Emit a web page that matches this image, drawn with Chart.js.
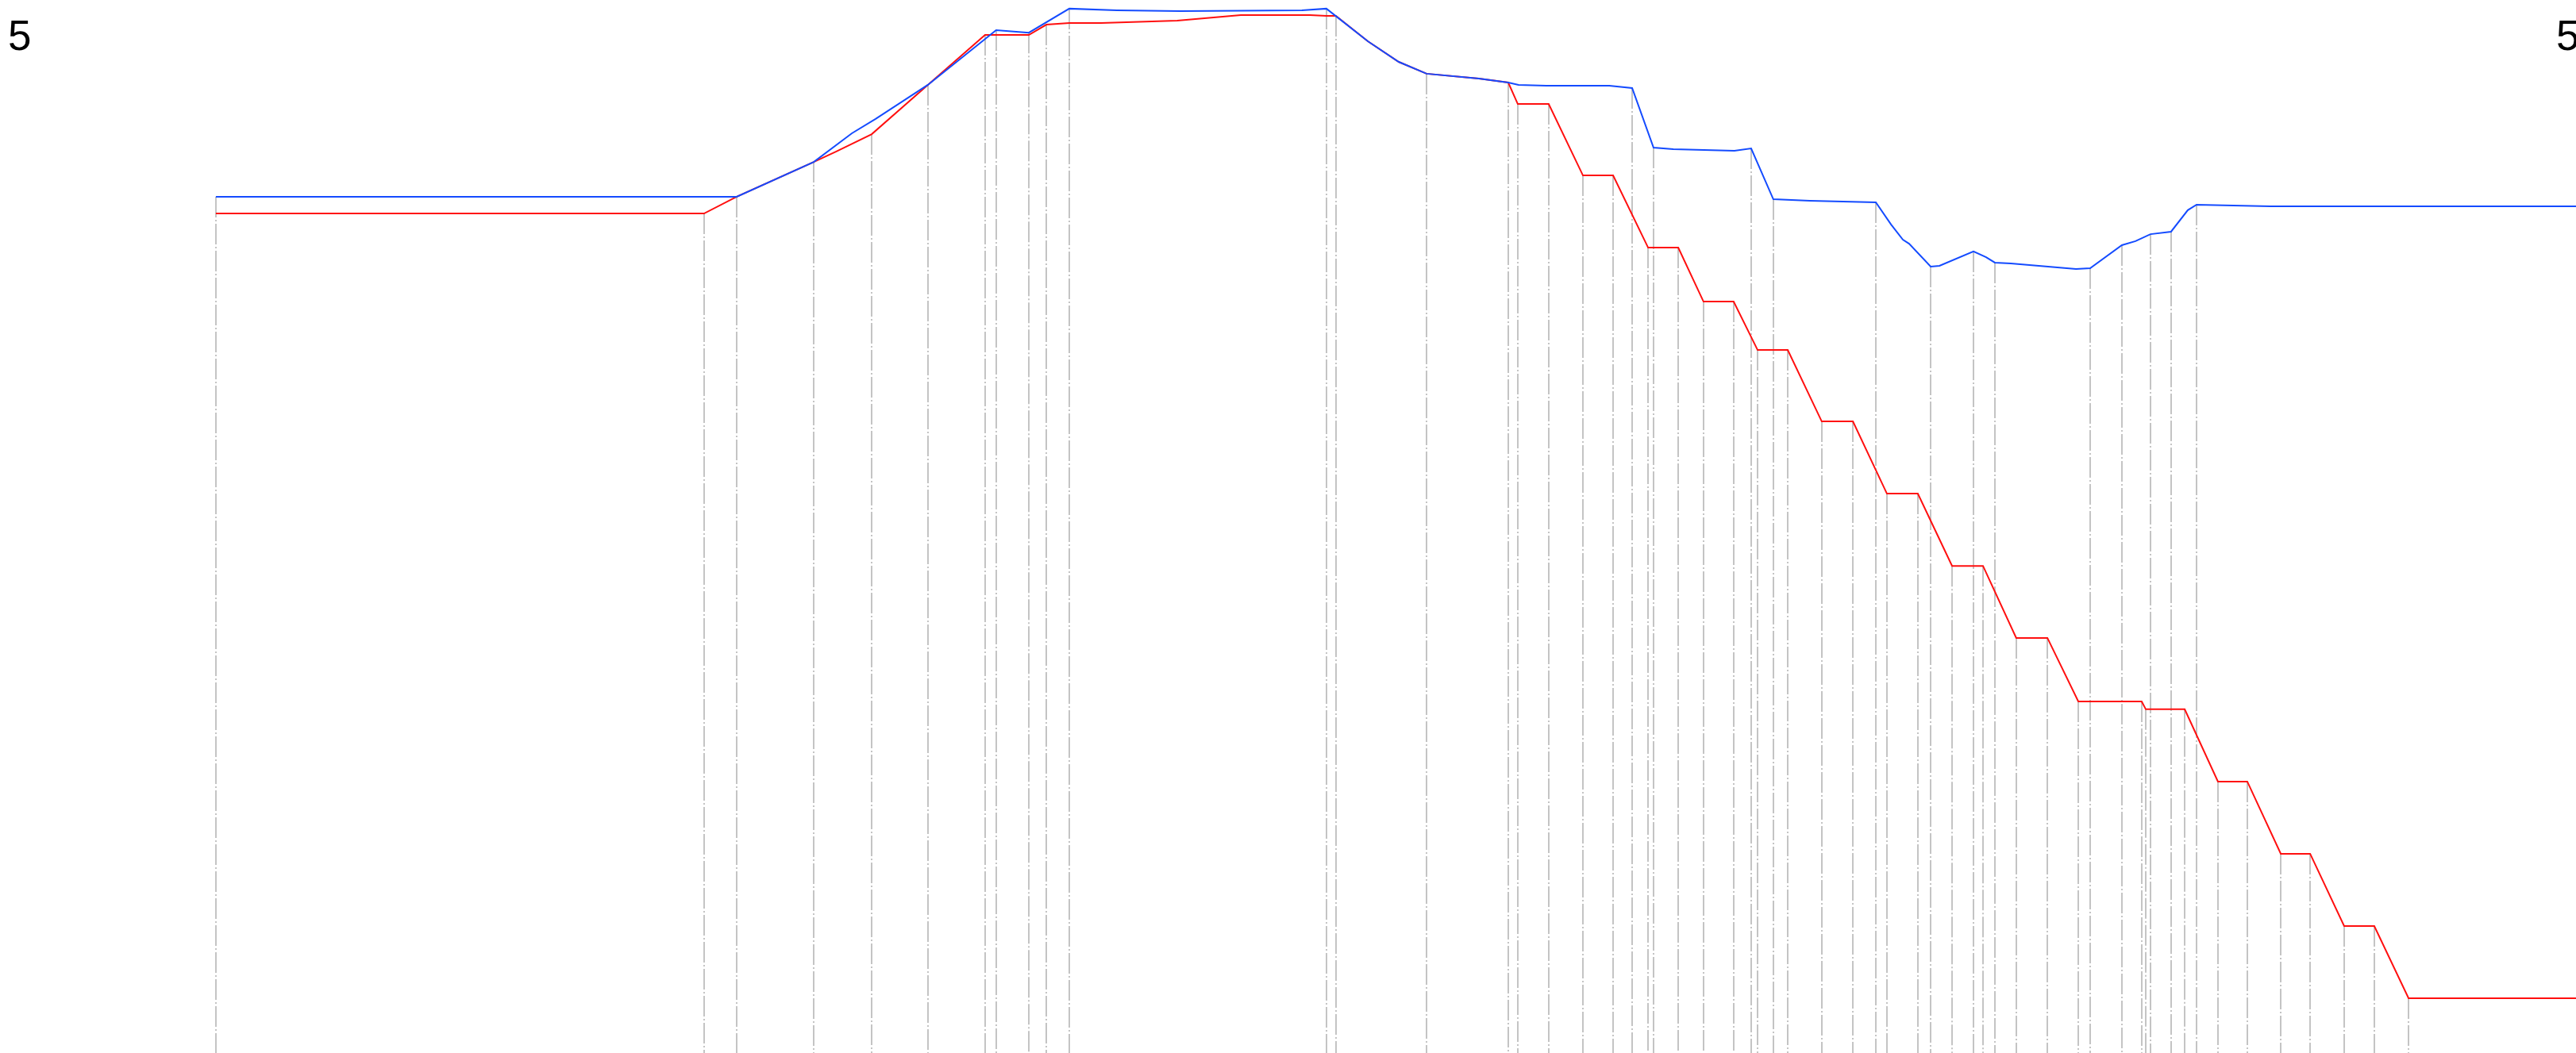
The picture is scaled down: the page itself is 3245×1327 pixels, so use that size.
<!DOCTYPE html>
<html>
<head>
<meta charset="utf-8">
<script src="https://cdn.jsdelivr.net/npm/chart.js@4/dist/chart.umd.min.js"></script>
<style>
  html, body { margin: 0; padding: 0; background: #fff; }
  #wrap { position: relative; width: 3245px; height: 1327px; overflow: hidden; }
  .lbl { position: absolute; top: 18px; font-family: "Liberation Sans", Arial, sans-serif; font-size: 53px; line-height: 53px; color: #000; }
</style>
</head>
<body>
<div id="wrap">
  <canvas id="chart"></canvas>
  <div class="lbl" style="left:10px">5</div>
  <div class="lbl" style="left:3220px">5</div>
</div>
<script>
// x in % of the run, y in units of the 0-5 scale
var blueX = [8.38, 28.60, 31.59, 33.07, 33.99, 36.02, 38.67, 39.94, 41.51, 43.36, 45.82, 50.54, 51.49,
  53.10, 54.30, 55.38, 57.41, 58.55, 58.95, 60.03, 62.47, 63.36, 64.19, 64.96, 67.33, 67.98, 68.84,
  70.26, 72.82, 73.41, 73.87, 74.11, 74.95, 75.29, 76.61, 77.10, 77.44, 78.06, 80.59, 81.14, 82.37,
  82.90, 83.48, 84.28, 84.93, 85.27, 88.14, 100];
var blueY = [4.066, 4.066, 4.231, 4.367, 4.435, 4.597, 4.857, 4.845, 4.959, 4.951, 4.947, 4.951, 4.959,
  4.804, 4.706, 4.650, 4.627, 4.608, 4.597, 4.593, 4.593, 4.582, 4.299, 4.292, 4.284, 4.295, 4.054,
  4.047, 4.039, 3.934, 3.862, 3.843, 3.734, 3.738, 3.806, 3.779, 3.753, 3.749, 3.723, 3.726, 3.836,
  3.855, 3.888, 3.900, 4.002, 4.028, 4.020, 4.020];
var blueDrops = [8.38, 28.60, 31.59, 36.02, 38.67, 39.94, 41.51, 51.49, 55.38, 63.36, 64.19, 67.98,
  68.84, 72.82, 74.95, 76.61, 77.44, 81.14, 82.37, 83.48, 84.28, 85.27];

var redX = [8.38, 27.33, 28.60, 31.59, 32.45, 33.84, 36.02, 38.24, 39.94, 40.62, 41.51, 42.74, 45.70,
  48.17, 50.85, 51.49, 51.86, 53.10, 54.30, 55.38, 57.41, 58.55, 58.92, 60.12, 61.45, 62.62, 63.98,
  65.15, 66.13, 67.30, 68.23, 69.40, 70.72, 71.93, 73.25, 74.45, 75.78, 76.98, 78.27, 79.48, 80.68,
  83.14, 83.30, 84.81, 86.10, 87.24, 88.54, 89.68, 91.00, 92.17, 93.50, 100];
var redY = [3.986, 3.986, 4.066, 4.231, 4.280, 4.363, 4.597, 4.834, 4.834, 4.883, 4.891, 4.891, 4.902,
  4.928, 4.928, 4.925, 4.925, 4.804, 4.706, 4.650, 4.627, 4.608, 4.506, 4.506, 4.167, 4.167, 3.824,
  3.824, 3.568, 3.568, 3.338, 3.338, 2.999, 2.999, 2.656, 2.656, 2.313, 2.313, 1.971, 1.971, 1.669,
  1.669, 1.632, 1.632, 1.289, 1.289, 0.946, 0.946, 0.603, 0.603, 0.260, 0.260];
var redDrops = [27.33, 33.84, 38.24, 40.62, 51.86, 58.55, 58.92, 60.12, 61.45, 62.62, 63.98, 65.15,
  66.13, 67.30, 68.23, 69.40, 70.72, 71.93, 73.25, 74.45, 75.78, 76.98, 78.27, 79.48, 80.68, 83.14,
  83.30, 84.81, 86.10, 87.24, 88.54, 89.68, 91.00, 92.17, 93.50];

function toPoints(xs, ys) {
  return xs.map(function (x, i) { return { x: x, y: ys[i] }; });
}

// grey dash-dot drop lines from marked points down to the bottom
var dropLines = {
  id: 'dropLines',
  beforeDatasetsDraw: function (chart) {
    var ctx = chart.ctx;
    var bottom = chart.chartArea.bottom;
    ctx.save();
    ctx.strokeStyle = '#c4c4c4';
    ctx.lineWidth = 2;
    ctx.setLineDash([26, 3, 2, 3]);
    chart.data.datasets.forEach(function (ds, di) {
      var meta = chart.getDatasetMeta(di);
      ds.data.forEach(function (p, i) {
        if (ds.drops.indexOf(p.x) < 0) return;
        var el = meta.data[i];
        var x = Math.round(el.x);
        ctx.beginPath();
        ctx.moveTo(x, el.y);
        ctx.lineTo(x, bottom);
        ctx.stroke();
      });
    });
    ctx.restore();
  }
};

document.addEventListener('DOMContentLoaded', function () {
  var ctx = document.getElementById('chart').getContext('2d');
  new Chart(ctx, {
    type: 'line',
    data: {
      datasets: [{
        label: 'blue',
        data: toPoints(blueX, blueY),
        drops: blueDrops,
        borderColor: 'rgb(20, 75, 255)',
        borderWidth: 2,
        pointRadius: 0,
        tension: 0,
        fill: false
      }, {
        label: 'red',
        data: toPoints(redX, redY),
        drops: redDrops,
        borderColor: 'rgb(255, 15, 15)',
        borderWidth: 2,
        pointRadius: 0,
        tension: 0,
        fill: false
      }]
    },
    options: {
      responsive: true,
      maintainAspectRatio: false,
      animation: false,
      layout: { padding: 0 },
      plugins: {
        legend: { display: false },
        tooltip: { enabled: false },
        title: { display: false }
      },
      scales: {
        x: { type: 'linear', min: 0, max: 100, display: false },
        y: { type: 'linear', min: 0, max: 5, display: false }
      }
    },
    plugins: [dropLines]
  });
});
</script>
</body>
</html>
